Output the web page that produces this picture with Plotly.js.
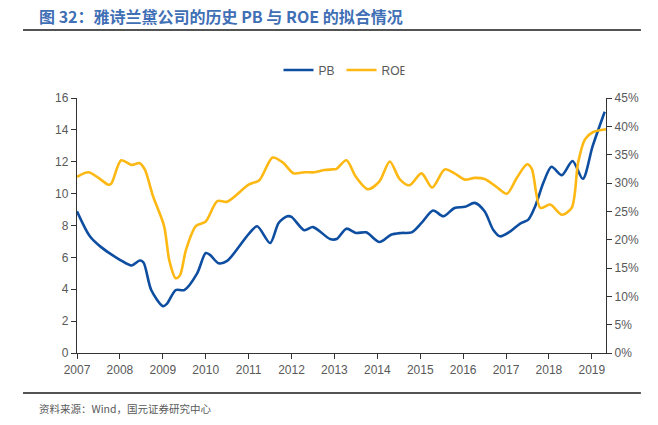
<!DOCTYPE html>
<html>
<head>
<meta charset="utf-8">
<script src="https://cdn.plot.ly/plotly-3.0.1.min.js"></script>
<style>
html,body{margin:0;padding:0;background:#fff;}
#chart{width:658px;height:425px;}
</style>
</head>
<body>
<div id="chart"></div>
<script>
// PB (left axis)
const pbX = [2007.0, 2007.3, 2007.54, 2008.0, 2008.27, 2008.46, 2008.55, 2008.73, 2009.0, 2009.1, 2009.3, 2009.5, 2009.8, 2010.0, 2010.1, 2010.3, 2010.5, 2011.0, 2011.2, 2011.5, 2011.7, 2011.9, 2012.0, 2012.3, 2012.5, 2012.9, 2013.05, 2013.28, 2013.5, 2013.74, 2014.05, 2014.32, 2014.56, 2014.8, 2015.03, 2015.3, 2015.54, 2015.8, 2016.04, 2016.27, 2016.5, 2016.7, 2016.86, 2017.1, 2017.33, 2017.52, 2017.68, 2017.87, 2018.06, 2018.3, 2018.55, 2018.79, 2019.02, 2019.3];
const pbY = [8.89, 7.32, 6.69, 5.85, 5.49, 5.80, 5.68, 3.95, 2.94, 3.1, 3.95, 3.95, 5.0, 6.27, 6.16, 5.63, 5.78, 7.46, 7.95, 6.9, 8.16, 8.58, 8.54, 7.7, 7.9, 7.15, 7.15, 7.8, 7.53, 7.57, 6.96, 7.42, 7.53, 7.57, 8.16, 8.94, 8.58, 9.1, 9.17, 9.42, 8.89, 7.74, 7.32, 7.63, 8.12, 8.37, 9.21, 10.68, 11.69, 11.16, 12.05, 10.93, 12.99, 15.14];
// ROE (right axis)
const roeX = [2007.0, 2007.27, 2007.5, 2007.73, 2007.8, 2008.03, 2008.27, 2008.46, 2008.58, 2008.77, 2009.03, 2009.15, 2009.3, 2009.4, 2009.54, 2009.77, 2010.0, 2010.27, 2010.5, 2011.0, 2011.25, 2011.56, 2011.8, 2012.05, 2012.3, 2012.54, 2012.77, 2012.95, 2013.05, 2013.28, 2013.5, 2013.78, 2014.05, 2014.29, 2014.52, 2014.75, 2015.03, 2015.28, 2015.57, 2015.8, 2016.04, 2016.27, 2016.5, 2016.78, 2017.02, 2017.25, 2017.49, 2017.6, 2017.8, 2018.03, 2018.3, 2018.53, 2018.68, 2018.84, 2019.03, 2019.33];
const roeY = [0.311, 0.319, 0.309, 0.297, 0.299, 0.340, 0.332, 0.335, 0.324, 0.277, 0.224, 0.164, 0.132, 0.137, 0.182, 0.224, 0.232, 0.268, 0.267, 0.297, 0.305, 0.345, 0.336, 0.317, 0.319, 0.319, 0.323, 0.324, 0.325, 0.340, 0.311, 0.289, 0.303, 0.338, 0.307, 0.296, 0.317, 0.292, 0.324, 0.317, 0.306, 0.309, 0.307, 0.293, 0.281, 0.309, 0.333, 0.325, 0.256, 0.262, 0.244, 0.256, 0.336, 0.377, 0.390, 0.395];
const years = [2007, 2008, 2009, 2010, 2011, 2012, 2013, 2014, 2015, 2016, 2017, 2018, 2019];
const leftTicks = [0, 2, 4, 6, 8, 10, 12, 14, 16];
const rightTicks = [0, 0.05, 0.10, 0.15, 0.20, 0.25, 0.30, 0.35, 0.40, 0.45];

const tickFont = {family: 'Liberation Sans, Arial, sans-serif', size: 12, color: '#595959'};
const traces = [
  {x: pbX, y: pbY, name: 'PB', type: 'scatter', mode: 'lines',
   line: {color: '#0E4EA1', width: 2.6, shape: 'spline', smoothing: 0.8}, yaxis: 'y'},
  {x: roeX, y: roeY, name: 'ROE', type: 'scatter', mode: 'lines',
   line: {color: '#FDB813', width: 2.6, shape: 'spline', smoothing: 0.8}, yaxis: 'y2'}
];
const layout = {
  width: 658, height: 425,
  margin: {l: 77, r: 52, t: 98, b: 72},
  paper_bgcolor: '#ffffff', plot_bgcolor: '#ffffff',
  showlegend: true,
  legend: {orientation: 'h', x: 0.5, xanchor: 'center', y: 1.11, yanchor: 'middle',
    font: {family: 'Liberation Sans, Arial, sans-serif', size: 12, color: '#595959'},
    itemwidth: 30, traceorder: 'normal', entrywidth: 18, entrywidthmode: 'pixels'},
  xaxis: {type: 'linear', range: [2007, 2019.33], tickvals: years, ticktext: years.map(String),
    showgrid: false, zeroline: false, showline: true, linecolor: '#333333', linewidth: 1.2,
    ticks: 'outside', ticklen: 5, tickcolor: '#333333', tickfont: tickFont},
  yaxis: {range: [0, 16], tickvals: leftTicks, showgrid: false, zeroline: false,
    showline: true, linecolor: '#333333', linewidth: 1.2, ticks: 'outside', ticklen: 5,
    tickcolor: '#333333', tickfont: tickFont},
  yaxis2: {range: [0, 0.45], tickvals: rightTicks, tickformat: '.0%', overlaying: 'y', side: 'right',
    showgrid: false, zeroline: false, showline: true, linecolor: '#333333', linewidth: 1.2,
    ticks: 'outside', ticklen: 5, tickcolor: '#333333', tickfont: tickFont},
  shapes: [
    {type: 'line', xref: 'paper', yref: 'paper', x0: -0.102, x1: 1.066, y0: 1.2667, y1: 1.2667,
     line: {color: '#1a1a1a', width: 1.6}},
    {type: 'line', xref: 'paper', yref: 'paper', x0: -0.102, x1: 1.066, y0: -0.157, y1: -0.157,
     line: {color: '#1a1a1a', width: 1.6}}
  ],
  annotations: [
    {xref: 'paper', yref: 'paper', x: -0.0756, y: 1.3216, xanchor: 'left', yanchor: 'middle',
     showarrow: false, text: '<b>图 32：雅诗兰黛公司的历史 PB 与 ROE 的拟合情况</b>',
     font: {family: 'Noto Sans CJK SC, sans-serif', size: 16, color: '#3F6FB5'}},
    {xref: 'paper', yref: 'paper', x: -0.0756, y: -0.2196, xanchor: 'left', yanchor: 'middle',
     showarrow: false, text: '资料来源：Wind，国元证券研究中心',
     font: {family: 'Noto Sans CJK SC, sans-serif', size: 10.5, color: '#595959'}}
  ]
};
Plotly.newPlot('chart', traces, layout, {displayModeBar: false, staticPlot: true});
</script>
</body>
</html>
